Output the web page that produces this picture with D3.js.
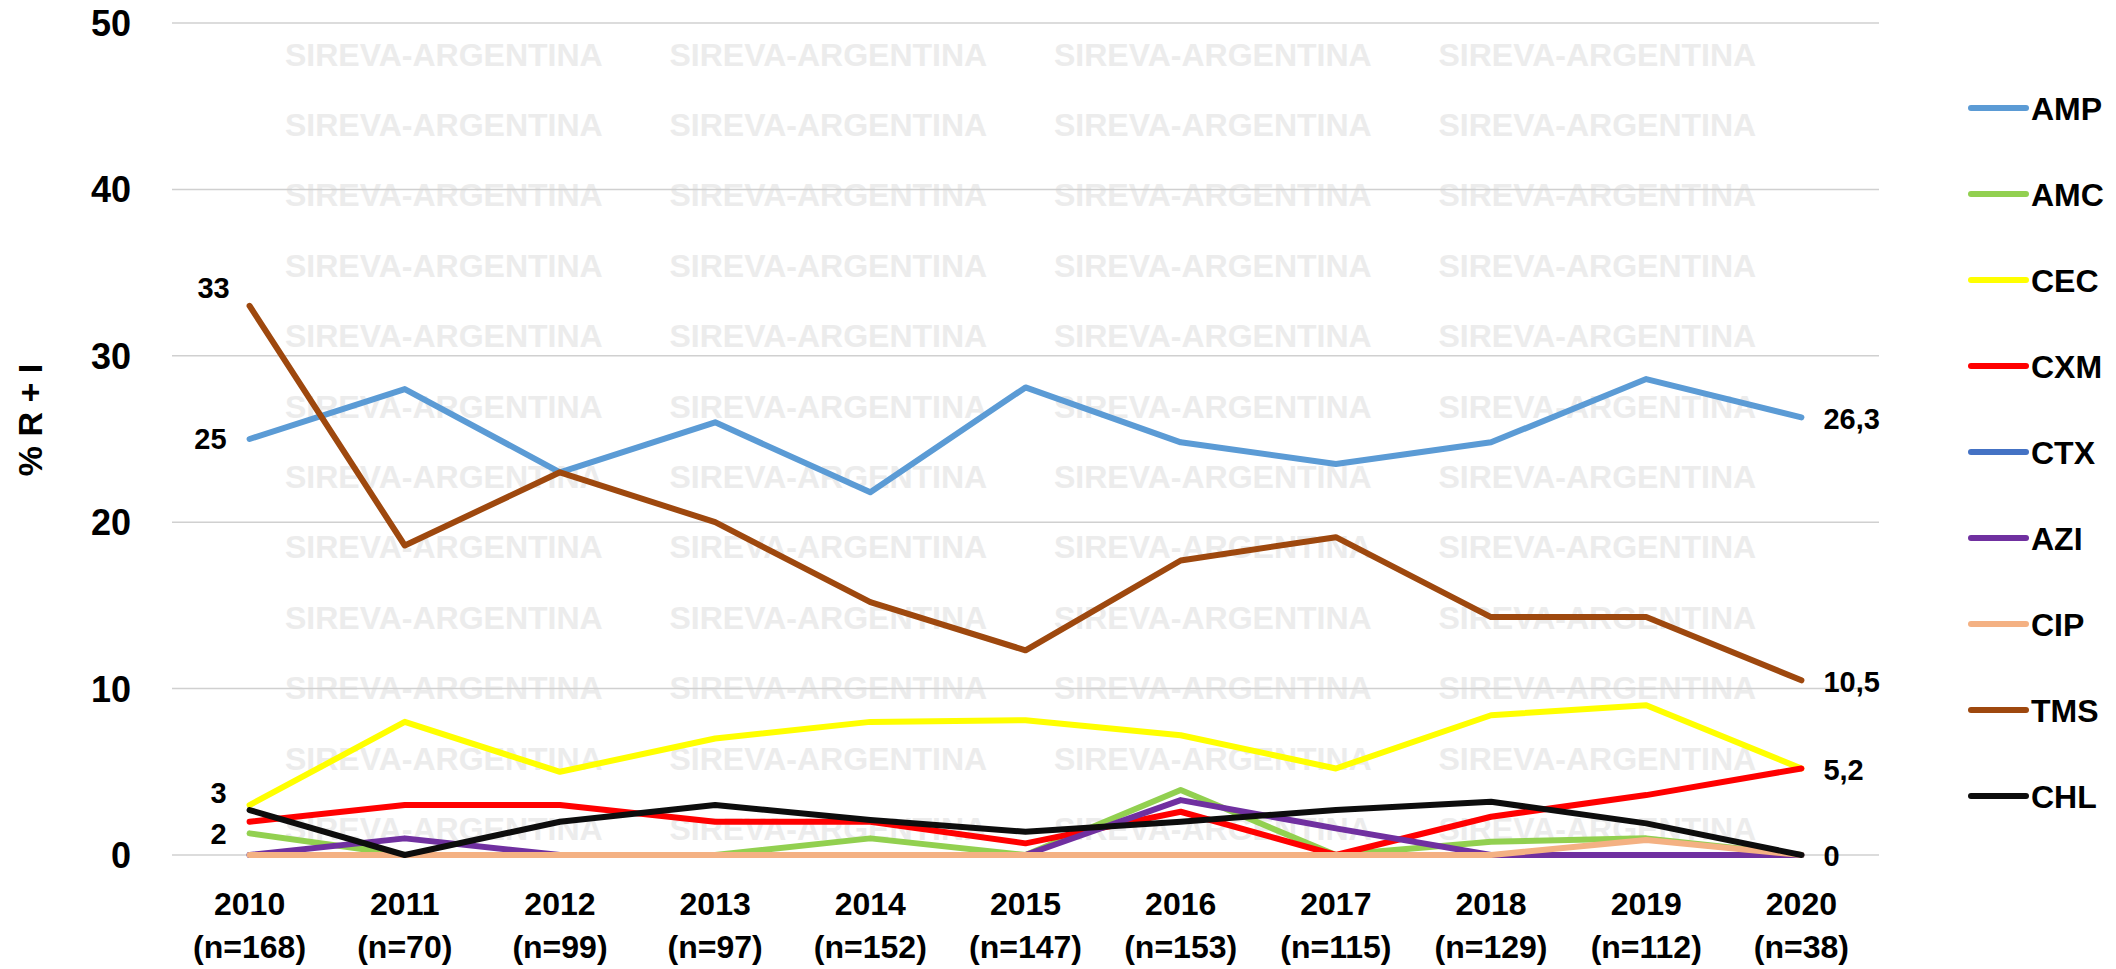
<!DOCTYPE html>
<html>
<head>
<meta charset="utf-8">
<script src="https://cdn.jsdelivr.net/npm/d3@7"></script>
<style>
  body { margin: 0; background: #fff; }
  text { font-family: "Liberation Sans", Arial, sans-serif; font-weight: bold; }
</style>
</head>
<body>
<script>
// data
var years = ["2010","2011","2012","2013","2014","2015","2016","2017","2018","2019","2020"];
var nCases = [168, 70, 99, 97, 152, 147, 153, 115, 129, 112, 38];

var AMP = [25, 28, 23, 26, 21.8, 28.1, 24.8, 23.5, 24.8, 28.6, 26.3];
var AMC = [1.3, 0, 0, 0, 1, 0, 3.9, 0, 0.8, 1, 0];
var CEC = [3, 8, 5, 7, 8, 8.1, 7.2, 5.2, 8.4, 9, 5.2];
var CXM = [2, 3, 3, 2, 2, 0.7, 2.6, 0, 2.3, 3.6, 5.2];
var CTX = [0, 0, 0, 0, 0, 0, 0, 0, 0, 0, 0];
var AZI = [0, 1, 0, 0, 0, 0, 3.3, 1.6, 0, 0, 0];
var CIP = [0, 0, 0, 0, 0, 0, 0, 0, 0, 0.9, 0];
var TMS = [33, 18.6, 23, 20, 15.2, 12.3, 17.7, 19.1, 14.3, 14.3, 10.5];
var CHL = [2.7, 0, 2, 3, 2.1, 1.4, 2, 2.7, 3.2, 1.9, 0];

var yTicks = [0, 10, 20, 30, 40, 50];

var series = [
  {name: "AMP", values: AMP, color: "#5B9BD5"},
  {name: "AMC", values: AMC, color: "#92D050"},
  {name: "CEC", values: CEC, color: "#FFFF00"},
  {name: "CXM", values: CXM, color: "#FF0000"},
  {name: "CTX", values: CTX, color: "#4472C4"},
  {name: "AZI", values: AZI, color: "#7030A0"},
  {name: "CIP", values: CIP, color: "#F4B183"},
  {name: "TMS", values: TMS, color: "#9E480E"},
  {name: "CHL", values: CHL, color: "#0D0D0D"}
];

// which points get a value label
var pointLabels = [
  {s: "TMS", i: 0, place: "topleft"},
  {s: "AMP", i: 0, place: "left"},
  {s: "CEC", i: 0, place: "leftup"},
  {s: "CXM", i: 0, place: "leftdown"},
  {s: "AMP", i: 10, place: "right"},
  {s: "TMS", i: 10, place: "right"},
  {s: "CXM", i: 10, place: "right"},
  {s: "CHL", i: 10, place: "right"}
];

var W = 2116, H = 969;
var plot = {left: 172, right: 1879, top: 23, bottom: 855};

var svg = d3.select("body").append("svg")
    .attr("width", W)
    .attr("height", H);

var x = d3.scalePoint()
    .domain(years)
    .range([plot.left, plot.right])
    .padding(0.5);
var y = d3.scaleLinear()
    .domain([0, 50])
    .range([plot.bottom, plot.top]);

// watermark
var wmRows = d3.range(12), wmCols = d3.range(4);
var wm = svg.append("g").attr("fill", "#ececec").style("font-size", "32px");
wmRows.forEach(function(r) {
  wmCols.forEach(function(c) {
    wm.append("text")
      .attr("x", 285 + c * 384.5)
      .attr("y", 54 + r * 70.4)
      .attr("dy", "0.36em")
      .text("SIREVA-ARGENTINA");
  });
});

// gridlines
svg.append("g").selectAll("line")
    .data(yTicks)
  .enter().append("line")
    .attr("x1", plot.left).attr("x2", plot.right)
    .attr("y1", function(d) { return y(d); })
    .attr("y2", function(d) { return y(d); })
    .attr("stroke", "#d0d0d0")
    .attr("stroke-width", 1.5);

// y axis labels
svg.append("g").selectAll("text")
    .data(yTicks)
  .enter().append("text")
    .attr("x", 131)
    .attr("y", function(d) { return y(d); })
    .attr("dy", "0.36em")
    .attr("text-anchor", "end")
    .style("font-size", "36px")
    .text(function(d) { return d; });

svg.append("text")
    .attr("transform", "translate(42,420) rotate(-90)")
    .attr("text-anchor", "middle")
    .style("font-size", "34px")
    .text("% R + I");

// x axis labels
var xl = svg.append("g").selectAll("g")
    .data(years)
  .enter().append("g")
    .attr("transform", function(d) { return "translate(" + x(d) + ",0)"; });
xl.append("text")
    .attr("y", 915)
    .attr("text-anchor", "middle")
    .style("font-size", "32px")
    .text(function(d) { return d; });
xl.append("text")
    .attr("y", 958)
    .attr("text-anchor", "middle")
    .style("font-size", "32px")
    .text(function(d, i) { return "(n=" + nCases[i] + ")"; });

// lines
var line = d3.line()
    .x(function(d, i) { return x(years[i]); })
    .y(function(d) { return y(d); });

svg.append("g").selectAll("path")
    .data(series)
  .enter().append("path")
    .attr("d", function(d) { return line(d.values); })
    .attr("fill", "none")
    .attr("stroke", function(d) { return d.color; })
    .attr("stroke-width", 6)
    .attr("stroke-linejoin", "round")
    .attr("stroke-linecap", "round");

// value labels
var fmt = function(v) { return String(v).replace(".", ","); };
var byName = {};
series.forEach(function(s) { byName[s.name] = s; });
var offsets = {
  topleft: {dx: -36, dy: -18, anchor: "middle"},
  left: {dx: -23, dy: 0, anchor: "end"},
  leftup: {dx: -23, dy: -13, anchor: "end"},
  leftdown: {dx: -23, dy: 12, anchor: "end"},
  right: {dx: 22, dy: 1, anchor: "start"}
};
svg.append("g").selectAll("text")
    .data(pointLabels)
  .enter().append("text")
    .attr("x", function(d) { return x(years[d.i]) + offsets[d.place].dx; })
    .attr("y", function(d) { return y(byName[d.s].values[d.i]) + offsets[d.place].dy; })
    .attr("dy", "0.36em")
    .attr("text-anchor", function(d) { return offsets[d.place].anchor; })
    .style("font-size", "29px")
    .text(function(d) { return fmt(byName[d.s].values[d.i]); });

// legend
var lg = svg.append("g").selectAll("g")
    .data(series)
  .enter().append("g")
    .attr("transform", function(d, i) { return "translate(1971," + (108 + i * 86) + ")"; });
lg.append("line")
    .attr("x1", 0).attr("x2", 55)
    .attr("stroke", function(d) { return d.color; })
    .attr("stroke-width", 6)
    .attr("stroke-linecap", "round");
lg.append("text")
    .attr("x", 60)
    .attr("dy", "0.36em")
    .style("font-size", "32px")
    .text(function(d) { return d.name; });
</script>
</body>
</html>
